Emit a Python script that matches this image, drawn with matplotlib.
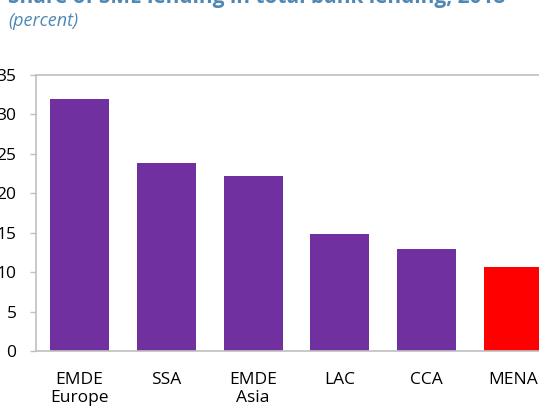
import matplotlib.pyplot as plt

# Data
regions = ['EMDE\nEurope', 'SSA', 'EMDE\nAsia', 'LAC', 'CCA', 'MENA']
share = [31.9, 23.8, 22.2, 14.8, 12.9, 10.7]
bar_colors = ['#7030A0', '#7030A0', '#7030A0', '#7030A0', '#7030A0', '#FF0000']
yticks = [0, 5, 10, 15, 20, 25, 30, 35]

plt.rcParams['font.family'] = ['Open Sans', 'DejaVu Sans']

fig = plt.figure(figsize=(5.39, 4.15), dpi=100)
# axes extends past the right edge, like the cropped reference
ax = fig.add_axes([36 / 539, 1 - 351 / 415, 521 / 539, 276 / 415])

x = range(len(regions))
ax.bar(x, share, width=0.68, color=bar_colors)

ax.set_xlim(-0.5, len(regions) - 0.5)
ax.set_ylim(0, 35)
ax.set_yticks(yticks)
ax.set_xticks(list(x))
ax.set_xticklabels(regions, fontsize=12.5, linespacing=1.2)
ax.tick_params(axis='x', length=0, pad=15)
ax.tick_params(axis='y', length=4, width=1, color='#BFBFBF', pad=10, labelsize=12.5)

for side in ['left', 'top', 'bottom', 'right']:
    ax.spines[side].set_color('#BFBFBF')
    ax.spines[side].set_linewidth(1.2)

fig.text(8 / 539, 1 - 3 / 415, 'Share of SME lending in total bank lending, 2018',
         fontsize=15, fontweight='bold', color='#4F88B5', va='baseline', ha='left')
fig.text(8 / 539, 1 - 26 / 415, '(percent)', fontsize=13, style='italic',
         color='#4F88B5', va='baseline', ha='left')

fig.savefig('out.png', dpi=100)
